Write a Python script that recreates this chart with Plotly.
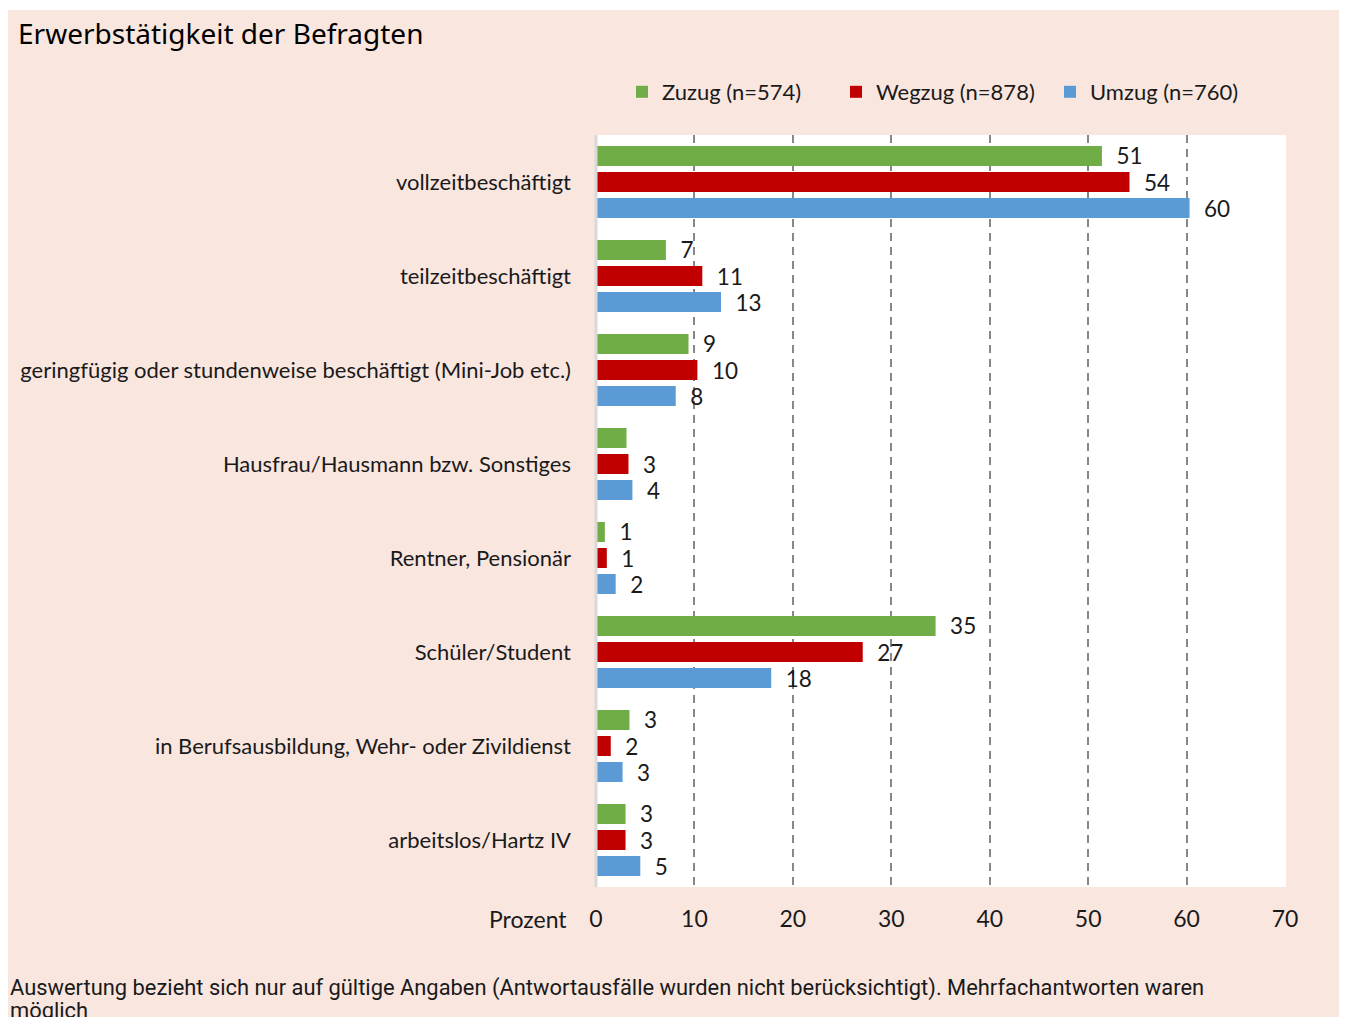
import plotly.graph_objects as go

categories = [
    "vollzeitbeschäftigt",
    "teilzeitbeschäftigt",
    "geringfügig oder stundenweise beschäftigt (Mini-Job etc.)",
    "Hausfrau/Hausmann bzw. Sonstiges",
    "Rentner, Pensionär",
    "Schüler/Student",
    "in Berufsausbildung, Wehr- oder Zivildienst",
    "arbeitslos/Hartz IV",
]
series_names = ["Zuzug (n=574)", "Wegzug (n=878)", "Umzug (n=760)"]
zuzug = [51.4, 7.1, 9.4, 3.1, 0.9, 34.5, 3.4, 3.0]
wegzug = [54.2, 10.8, 10.3, 3.3, 1.1, 27.1, 1.5, 3.0]
umzug = [60.3, 12.7, 8.1, 3.7, 2.0, 17.8, 2.7, 4.5]
zuzug_labels = ["51", "7", "9", "", "1", "35", "3", "3"]
wegzug_labels = ["54", "11", "10", "3", "1", "27", "2", "3"]
umzug_labels = ["60", "13", "8", "4", "2", "18", "3", "5"]
x_ticks = [0, 10, 20, 30, 40, 50, 60, 70]

colors = ["#70AD47", "#C00000", "#5B9BD5"]
FONT = "Lato, Roboto, sans-serif"
FOOT_FONT = "Roboto, sans-serif"
PINK = "#F9E6DF"
TXT = "#1a1a1a"

# page offset (body margin of the html page)
OFF = 8
W, H = 1347 - OFF, 1017 - OFF
# plot area in page pixels
L, R, T, B = 596, 1286, 135, 887


def px_x(px):
    return (px - L) / (R - L)


def px_y(py):
    return (B - py) / (B - T)


fig = go.Figure()
for name, vals, labels, col in zip(series_names, [zuzug, wegzug, umzug],
                                   [zuzug_labels, wegzug_labels, umzug_labels], colors):
    fig.add_trace(go.Bar(
        name=name, y=categories, x=vals, orientation="h",
        marker=dict(color=col, line=dict(width=0)),
        text=["  " + t if t else "" for t in labels],
        textposition="outside", cliponaxis=False, constraintext="none",
        textfont=dict(family=FONT, size=22.5, color=TXT),
        hoverinfo="skip",
    ))

fig.update_layout(
    width=W, height=H,
    margin=dict(l=L - OFF, r=W - (R - OFF), t=T - OFF, b=H - (B - OFF), autoexpand=False),
    paper_bgcolor="white", plot_bgcolor="white",
    barmode="group", bargap=0.17, bargroupgap=0.23,
    font=dict(family=FONT, size=22, color=TXT),
    showlegend=True,
    legend=dict(orientation="h", x=px_x(622), xanchor="left", y=px_y(92), yanchor="middle",
                font=dict(family=FONT, size=22, color=TXT), bgcolor="rgba(0,0,0,0)",
                itemwidth=30, traceorder="normal", entrywidth=169, entrywidthmode="pixels"),
    xaxis=dict(range=[0, 70.1], tickvals=x_ticks, showgrid=True, gridcolor="#878787",
               gridwidth=2, griddash="8px,6px", zeroline=False, showline=False,
               tickfont=dict(family=FONT, size=23, color=TXT), ticklabelstandoff=16,
               fixedrange=True),
    yaxis=dict(autorange=False, range=[7.5, -0.5], type="category", showgrid=False,
               zeroline=False, showline=False, ticks="",
               tickfont=dict(family=FONT, size=22, color=TXT), ticklabelstandoff=24),
    shapes=[
        dict(type="rect", xref="paper", yref="paper", x0=px_x(8), x1=px_x(1345),
             y0=px_y(1030), y1=px_y(10), fillcolor=PINK, line=dict(width=0), layer="below"),
        dict(type="rect", xref="paper", yref="paper", x0=0, x1=1, y0=0, y1=1,
             fillcolor="white", line=dict(width=0), layer="below"),
        dict(type="line", xref="paper", yref="paper", x0=0, x1=0, y0=0, y1=1,
             line=dict(color="#D9D9D9", width=3), layer="above"),
    ],
    annotations=[
        dict(text="Erwerbstätigkeit der Befragten", xref="paper", yref="paper",
             x=px_x(16), y=px_y(33), xanchor="left", yanchor="middle", showarrow=False,
             font=dict(family="Noto Sans, sans-serif", size=28, color="#000000")),
        dict(text="Prozent", xref="paper", yref="paper", x=px_x(569), y=px_y(919),
             xanchor="right", yanchor="middle", showarrow=False,
             font=dict(family=FONT, size=23, color=TXT)),
        dict(text="Auswertung bezieht sich nur auf gültige Angaben (Antwortausfälle wurden nicht berücksichtigt). Mehrfachantworten waren",
             xref="paper", yref="paper", x=px_x(8), y=px_y(988), xanchor="left", yanchor="middle",
             showarrow=False, font=dict(family=FOOT_FONT, size=21.9, color=TXT)),
        dict(text="möglich", xref="paper", yref="paper", x=px_x(8), y=px_y(1011),
             xanchor="left", yanchor="middle", showarrow=False,
             font=dict(family=FOOT_FONT, size=21.9, color=TXT)),
    ],
)

fig.write_html("out.html")
